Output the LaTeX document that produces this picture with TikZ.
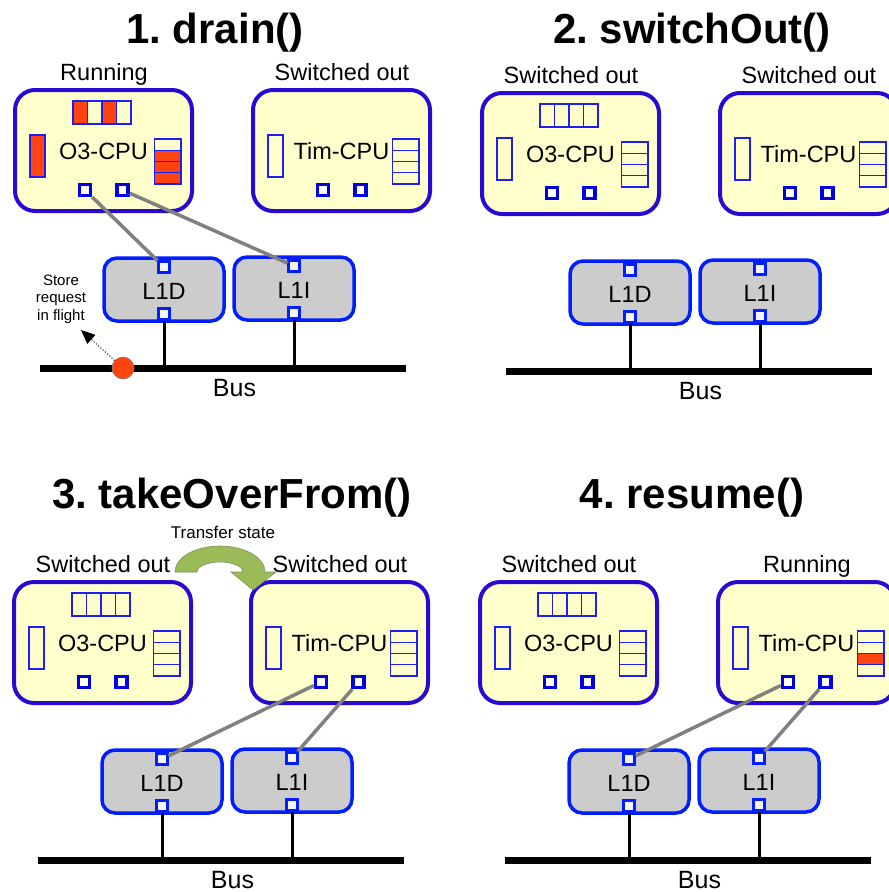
\documentclass[tikz,border=0pt]{standalone}
\usepackage{fontspec}
\setmainfont{Liberation Sans}
\usetikzlibrary{arrows.meta}
\frenchspacing

\definecolor{cpuline}{RGB}{40,10,210}
\definecolor{cpufill}{RGB}{255,255,204}
\definecolor{l1line}{RGB}{0,30,255}
\definecolor{l1fill}{RGB}{204,204,204}
\definecolor{regline}{RGB}{30,30,240}
\definecolor{regred}{RGB}{255,68,17}
\definecolor{linkgray}{RGB}{128,128,128}
\definecolor{xfergreen}{RGB}{155,187,89}
\definecolor{xferedge}{RGB}{125,145,95}

\tikzset{
  cpubox/.style={draw=cpuline, line width=4pt, fill=cpufill, rounded corners=20pt,
    minimum width=177pt, minimum height=121pt, inner sep=0pt},
  l1box/.style={draw=l1line, line width=3.5pt, fill=l1fill, rounded corners=13pt,
    minimum width=120pt, minimum height=63pt, inner sep=0pt},
  regcell/.style={draw=regline, line width=1.1pt},
  redcell/.style={draw=regline, line width=1.1pt, fill=regred},
  cpuport/.style={draw=blue!90!black, line width=3.6pt, fill=white,
    minimum size=11pt, inner sep=0pt},
  l1port/.style={draw=l1line, line width=2.6pt, fill=white!92!gray,
    minimum size=10.5pt, inner sep=0pt},
  linkline/.style={draw=linkgray, line width=3.5pt},
  stubline/.style={line width=3pt},
  busline/.style={fill=black, minimum width=366pt, minimum height=7pt, inner sep=0pt},
  titletext/.style={font=\fontsize{42}{50}\selectfont\bfseries, anchor=base},
  statetext/.style={font=\fontsize{23.5}{28}\selectfont, anchor=base},
  unittext/.style={font=\fontsize{23.5}{28}\selectfont, anchor=base},
  bustext/.style={font=\fontsize{25}{30}\selectfont, anchor=base},
  notetext/.style={font=\fontsize{15}{17.5}\selectfont, align=center},
  xfertext/.style={font=\fontsize{17}{20}\selectfont, anchor=base},
}

% CPU unit: #1 name, #2/#3 top-left corner, #4 CPU label, #5 state label
\newcommand{\cpuunit}[5]{%
  \node[cpubox] (#1) at (#2+89.5,#3+61.5) {};
  \node[statetext] (#1-state) at (#2+90,#3-8.5) {#5};
  \draw[regcell] (#2+16,#3+46) rectangle (#2+31,#3+88);
  \foreach \r in {0,1,2,3}
    \draw[regcell] (#2+140.5,#3+50+11.25*\r) rectangle +(26.5,11.25);
  \node[unittext] (#1-label) at (#2+89.5,#3+70) {#4};
  \node[cpuport] (#1-pa) at (#2+71,#3+101) {};
  \node[cpuport] (#1-pb) at (#2+108.5,#3+101) {};
}
% four-entry register bar along the top of a CPU
\newcommand{\topbar}[2]{%
  \foreach \c in {0,1,2,3}
    \draw[regcell] (#1+59+14.5*\c,#2+12) rectangle +(14.5,23);
}
% cache unit: #1 name, #2/#3 top-left corner, #4 label
\newcommand{\cacheunit}[4]{%
  \node[l1box] (#1) at (#2+61,#3+32.5) {};
  \node[unittext] (#1-label) at (#2+61,#3+42) {#4};
  \node[l1port] (#1-pt) at (#2+61,#3+10) {};
  \node[l1port] (#1-pb) at (#2+61,#3+57) {};
}
% L1 caches and bus of one panel, in panel-local coordinates
\newcommand{\memside}[1]{%
  \node[busline] (#1bus) at (223,368) {};
  \node[bustext] (#1bustext) at (234.5,396) {Bus};
  \cacheunit{#1d}{103}{257}{L1D}
  \cacheunit{#1i}{233}{256}{L1I}
  \draw[stubline] (#1d-pb.south) -- (#1d-pb.south |- #1bus.center);
  \draw[stubline] (#1i-pb.south) -- (#1i-pb.south |- #1bus.center);
}

\begin{document}
\begin{tikzpicture}[x=1pt,y=-1pt]
\useasboundingbox (0,0) rectangle (889,892);
\clip (0,0) rectangle (889,892);
\fill[white] (0,0) rectangle (889,892);

% ---------- titles ----------
\node[titletext] (t1) at (215,43) {1. drain()};
\node[titletext] (t2) at (692,43) {2. switchOut()};
\node[titletext] (t3) at (232,508) {3. takeOverFrom()};
\node[titletext] (t4) at (692,508) {4. resume()};

% ---------- 1. drain() ----------
\begin{scope}
  \memside{p1}
\end{scope}
\cpuunit{p1o3}{14}{89}{O3-CPU}{Running}
\topbar{14}{89}
\draw[redcell] (14+59,89+12) rectangle +(14.5,23);
\draw[redcell] (14+88,89+12) rectangle +(14.5,23);
\draw[redcell] (14+16,89+46) rectangle (14+31,89+88);
\foreach \r in {1,2,3}
  \draw[redcell] (14+140.5,89+50+11.25*\r) rectangle +(26.5,11.25);
\cpuunit{p1tim}{252}{89}{Tim-CPU}{Switched out}
\draw[linkline] (p1o3-pa) -- (p1d-pt);
\draw[linkline] (p1o3-pb) -- (p1i-pt);
% store request still on the bus
\node[circle, fill=regred, draw=gray, line width=0.6pt, minimum size=22pt,
  inner sep=0pt] (reqdot) at (123,368) {};
\coordinate (reqtip) at (81,330);
\draw[dotted, line width=1pt, -{Triangle[length=14pt,width=12pt]}] (reqdot) -- (reqtip);
\node[notetext] (reqnote) at (61,299) {Store\\request\\in flight};

% ---------- 2. switchOut() ----------
\begin{scope}[shift={(466,3)}]
  \memside{p2}
\end{scope}
\cpuunit{p2o3}{481}{92}{O3-CPU}{Switched out}
\topbar{481}{92}
\cpuunit{p2tim}{719}{92}{Tim-CPU}{Switched out}

% ---------- 3. takeOverFrom() ----------
\begin{scope}[shift={(-2,492)}]
  \memside{p3}
\end{scope}
\cpuunit{p3o3}{13}{581}{O3-CPU}{Switched out}
\topbar{13}{581}
\cpuunit{p3tim}{250}{581}{Tim-CPU}{Switched out}
\draw[linkline] (p3tim-pa) -- (p3d-pt);
\draw[linkline] (p3tim-pb) -- (p3i-pt);
% state transfer arrow
\filldraw[fill=xfergreen, draw=xferedge, line width=0.6pt]
  (175,572) arc[start angle=180, end angle=360, x radius=45, y radius=26]
  -- (276,572) -- (253,590) -- (231,572) -- (243,572)
  arc[start angle=360, end angle=180, x radius=23, y radius=10] -- cycle;
\node[xfertext] (xferlbl) at (223,538) {Transfer state};

% ---------- 4. resume() ----------
\begin{scope}[shift={(465,492)}]
  \memside{p4}
\end{scope}
\cpuunit{p4o3}{479}{581}{O3-CPU}{Switched out}
\topbar{479}{581}
\cpuunit{p4tim}{717}{581}{Tim-CPU}{Running}
\draw[redcell] (717+140.5,581+50+22.5) rectangle +(26.5,11.25);
\draw[linkline] (p4tim-pa) -- (p4d-pt);
\draw[linkline] (p4tim-pb) -- (p4i-pt);
\end{tikzpicture}
\end{document}
